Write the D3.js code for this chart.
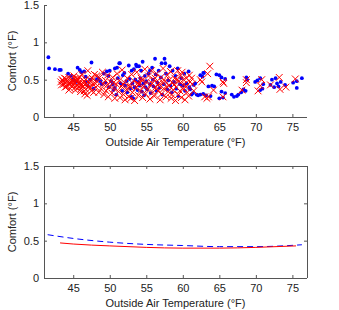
<!DOCTYPE html>
<html>
<head>
<meta charset="utf-8">
<script src="https://cdn.jsdelivr.net/npm/d3@7"></script>
<style>
  body { margin: 0; background: #fff; }
  svg { display: block; font-family: "Liberation Sans", Arial, sans-serif; }
  .axis path, .axis line { stroke: #555; }
  .axis text { fill: #222; font-size: 11px; }
  .lbl { fill: #222; font-size: 11px; }
</style>
</head>
<body>
<div class="container"></div>
<script>
// measured points [temperature, comfort]
const bluePts = [
  [41.6,0.80],[41.7,0.65],[42.5,0.64],[43.1,0.63],[43.3,0.63],
  [44.3,0.58],[44.7,0.55],[45.0,0.50],[45.4,0.47],[45.6,0.66],[45.9,0.63],[46.1,0.60],[46.5,0.61],
  [46.7,0.54],[46.8,0.47],[47.0,0.42],[47.5,0.73],[47.3,0.50],[47.8,0.38],
  [48.2,0.50],[48.4,0.52],[48.7,0.48],[48.9,0.44],[49.2,0.58],[49.4,0.46],[49.6,0.61],[49.8,0.55],
  [49.9,0.40],[50.0,0.62],[50.2,0.48],[50.4,0.44],[50.5,0.36],[50.7,0.65],[50.7,0.39],[50.9,0.30],
  [51.0,0.66],[51.1,0.52],[51.3,0.72],[51.4,0.72],[51.5,0.45],[51.7,0.35],[51.8,0.56],[52.0,0.59],
  [52.1,0.42],[52.3,0.48],[52.4,0.33],[52.6,0.69],[52.7,0.51],[52.8,0.38],[53.0,0.62],[53.0,0.27],
  [53.1,0.45],[53.2,0.25],[53.3,0.64],[53.4,0.40],[53.5,0.50],[53.6,0.70],[53.7,0.68],[53.8,0.36],
  [53.9,0.47],[54.0,0.68],[54.1,0.42],[54.2,0.52],[54.3,0.62],[54.4,0.34],[54.5,0.74],[54.6,0.45],
  [54.7,0.29],[54.8,0.55],[54.9,0.40],[55.0,0.48],[55.1,0.37],[55.3,0.58],[55.5,0.62],[55.5,0.44],
  [55.6,0.32],[55.8,0.66],[55.9,0.50],[56.0,0.41],[56.2,0.78],[56.3,0.57],[56.4,0.35],[56.5,0.46],
  [56.7,0.62],[56.8,0.39],[57.0,0.53],[57.1,0.72],[57.2,0.30],[57.4,0.44],[57.5,0.78],[57.6,0.72],
  [57.7,0.58],[57.9,0.37],[58.0,0.49],[58.2,0.68],[58.3,0.42],[58.5,0.33],[58.6,0.62],[58.8,0.47],
  [59.0,0.55],[59.1,0.38],[59.3,0.65],[59.4,0.28],[59.6,0.44],[59.8,0.52],[60.0,0.42],[60.2,0.58],
  [60.3,0.35],[60.5,0.45],[60.8,0.61],[60.9,0.40],[61.0,0.37],[61.2,0.30],[61.4,0.32],[61.5,0.43],
  [61.7,0.45],[61.9,0.30],[62.1,0.29],[62.4,0.56],[62.4,0.30],[62.7,0.54],[62.8,0.59],[62.8,0.31],
  [62.9,0.59],[63.2,0.29],[63.5,0.41],[63.8,0.28],[64.0,0.42],[64.3,0.41],[64.6,0.57],[65.0,0.56],
  [65.0,0.25],[65.3,0.53],[65.3,0.34],[65.5,0.26],[65.8,0.51],[65.8,0.32],[66.7,0.30],[66.9,0.53],
  [67.0,0.27],[67.4,0.28],[67.6,0.30],[68.0,0.33],[68.3,0.37],[68.6,0.35],[68.7,0.53],[68.8,0.50],
  [69.9,0.47],[70.2,0.49],[70.6,0.52],[70.6,0.36],[70.9,0.38],[71.0,0.44],[72.0,0.43],[72.2,0.50],
  [72.5,0.40],[72.7,0.52],[72.9,0.45],[73.1,0.41],[73.4,0.47],[74.0,0.43],[75.1,0.46],[75.6,0.48],
  [75.6,0.39],[76.3,0.52]
];
const redPts = [
  [43.3,0.47],[43.5,0.50],[43.7,0.44],[43.8,0.52],[44.0,0.46],[44.1,0.41],[44.2,0.49],[44.4,0.53],
  [44.5,0.44],[44.6,0.38],[44.7,0.47],[44.9,0.50],[45.0,0.42],[45.1,0.55],[45.2,0.46],[45.3,0.36],
  [45.4,0.49],[45.5,0.43],[45.6,0.52],[45.7,0.39],[45.9,0.47],[46.0,0.34],[46.1,0.44],[46.2,0.57],
  [46.3,0.41],[46.5,0.48],[46.6,0.31],[46.7,0.37],[46.8,0.45],[46.9,0.29],[47.0,0.62],[47.1,0.40],
  [47.3,0.50],[47.5,0.35],[47.7,0.44],[47.9,0.57],[48.1,0.40],[48.3,0.47],[48.5,0.33],[48.6,0.53],
  [48.8,0.38],[49.0,0.60],[49.1,0.44],[49.2,0.30],[49.4,0.49],[49.5,0.35],[49.7,0.56],[49.8,0.27],
  [50.0,0.41],[50.1,0.47],[50.3,0.32],[50.4,0.53],[50.6,0.38],[50.7,0.25],[50.9,0.44],[51.0,0.58],
  [51.2,0.34],[51.3,0.49],[51.4,0.26],[51.6,0.41],[51.7,0.63],[51.9,0.30],[52.0,0.46],[52.1,0.23],
  [52.3,0.37],[52.4,0.52],[52.6,0.27],[52.7,0.43],[52.9,0.25],[53.0,0.57],[53.1,0.33],[53.3,0.48],
  [53.4,0.22],[53.6,0.39],[53.7,0.60],[53.9,0.29],[54.0,0.44],[54.2,0.35],[54.3,0.52],[54.5,0.26],
  [54.6,0.41],[54.8,0.64],[54.9,0.31],[55.0,0.47],[55.2,0.37],[55.3,0.55],[55.5,0.24],[55.6,0.43],
  [55.7,0.62],[55.9,0.33],[56.0,0.50],[56.1,0.28],[56.3,0.40],[56.4,0.58],[56.6,0.35],[56.7,0.45],
  [56.9,0.23],[57.0,0.53],[57.1,0.31],[57.3,0.65],[57.4,0.38],[57.6,0.48],[57.7,0.27],[57.9,0.56],
  [58.0,0.34],[58.1,0.42],[58.3,0.61],[58.4,0.25],[58.6,0.46],[58.7,0.36],[58.9,0.52],[59.0,0.22],
  [59.1,0.40],[59.3,0.62],[59.4,0.30],[59.5,0.48],[59.7,0.56],[59.8,0.26],[59.9,0.60],[60.0,0.38],
  [60.2,0.44],[60.3,0.23],[60.5,0.52],[60.6,0.33],[60.8,0.28],[61.0,0.47],[61.2,0.52],[61.5,0.35],
  [62.4,0.50],[62.6,0.47],[63.0,0.27],[63.3,0.25],[63.4,0.58],[63.5,0.27],[63.7,0.68],[64.2,0.36],
  [65.5,0.47],[65.6,0.45],[65.5,0.27],[68.1,0.36],[68.7,0.50],[68.7,0.46],[70.3,0.35],[70.6,0.42],
  [70.8,0.50],[72.0,0.43],[73.2,0.53],[73.3,0.37],[74.1,0.40],[75.4,0.51],
  [43.4,0.43],[43.6,0.48],[43.9,0.40],[44.0,0.51],[44.3,0.45],[44.4,0.36],[44.8,0.42],[45.0,0.47],
  [45.2,0.51],[45.3,0.40],[45.5,0.48],[45.8,0.44],[45.9,0.53],[46.1,0.38],[46.4,0.45],[46.5,0.35],
  [46.7,0.50],[46.9,0.42],[47.2,0.46],[47.4,0.39],[47.6,0.52],[47.8,0.33],[48.0,0.45],[48.2,0.55],
  [49.6,0.42],[50.5,0.46],[51.8,0.44],[52.8,0.40],[53.8,0.45],[54.4,0.49],[55.8,0.45],[56.2,0.52],
  [56.8,0.41],[57.2,0.47],[57.8,0.40],[58.2,0.50],[58.5,0.30],[58.8,0.43],[59.2,0.49],[59.6,0.35],
  [60.1,0.50],[60.4,0.40],[60.9,0.56],[61.3,0.44]
];

// fitted curves (bottom panel)
const blueFitT = [41.5, 45, 50, 55, 60, 65, 70, 76.3];
const blueFitV = [0.58, 0.53, 0.48, 0.45, 0.435, 0.42, 0.42, 0.445];
const redFitT = [43.2, 45, 50, 55, 60, 65, 70, 75.5];
const redFitV = [0.47, 0.455, 0.43, 0.41, 0.40, 0.40, 0.41, 0.43];

const xTicks = [45, 50, 55, 60, 65, 70, 75];
const yTicks = [0, 0.5, 1, 1.5];

const WIDTH = 339;
const HEIGHT = 310;
const LEFT = 44, RIGHT = 307;

const svg = d3.select('.container').append('svg')
    .attr('width', WIDTH)
    .attr('height', HEIGHT);

const x = d3.scaleLinear().domain([41, 77]).range([LEFT, RIGHT]);

const drawPanel = function (top, bottom, boxed) {
    let y = d3.scaleLinear().domain([0, 1.5]).range([bottom, top]);
    let g = svg.append('g');

    let xAxis = d3.axisBottom(x).tickValues(xTicks).tickSize(-3).tickPadding(6)
        .tickFormat(d3.format('d'));
    let yAxis = d3.axisLeft(y).tickValues(yTicks).tickSize(-3).tickPadding(5)
        .tickFormat(d => d);

    g.append('g').attr('class', 'axis')
        .attr('transform', `translate(0, ${bottom})`)
        .call(xAxis)
        .call(a => a.select('.domain').attr('d', `M${LEFT},0.5H${RIGHT}`));
    g.append('g').attr('class', 'axis')
        .attr('transform', `translate(${LEFT}, 0)`)
        .call(yAxis)
        .call(a => a.select('.domain').attr('d', `M0.5,${bottom}V${top}`));

    if (boxed) {
        g.append('g').attr('class', 'axis')
            .attr('transform', `translate(0, ${top})`)
            .call(d3.axisTop(x).tickValues(xTicks).tickSize(-3).tickFormat(''))
            .call(a => a.select('.domain').attr('d', `M${LEFT},0.5H${RIGHT}`));
        g.append('g').attr('class', 'axis')
            .attr('transform', `translate(${RIGHT}, 0)`)
            .call(d3.axisRight(y).tickValues(yTicks).tickSize(-3).tickFormat(''))
            .call(a => a.select('.domain').attr('d', `M0.5,${bottom}V${top}`));
    }

    svg.append('text').attr('class', 'lbl')
        .attr('text-anchor', 'middle')
        .attr('x', (LEFT + RIGHT) / 2)
        .attr('y', bottom + 29)
        .text('Outside Air Temperature (°F)');

    svg.append('text').attr('class', 'lbl')
        .attr('text-anchor', 'middle')
        .attr('transform', `translate(16, ${(top + bottom) / 2})rotate(-90)`)
        .text('Comfort (°F)');

    return y;
};

//--top panel: scatter--
const y1 = drawPanel(5, 117, false);
const scat = svg.append('g');

scat.selectAll('circle').data(bluePts)
    .enter().append('circle')
    .attr('cx', d => x(d[0]))
    .attr('cy', d => y1(d[1]))
    .attr('r', 1.9)
    .attr('fill', '#0000ff');

const s = 3.4;
scat.selectAll('path.cross').data(redPts)
    .enter().append('path')
    .attr('class', 'cross')
    .attr('d', d => {
        let cx = x(d[0]), cy = y1(d[1]);
        return `M${cx - s},${cy - s}L${cx + s},${cy + s}M${cx - s},${cy + s}L${cx + s},${cy - s}`;
    })
    .attr('stroke', '#ff0000')
    .attr('stroke-width', 1)
    .attr('fill', 'none');

//--bottom panel: fitted lines--
const y2 = drawPanel(166, 278, true);

const line = d3.line()
    .x(d => x(d[0]))
    .y(d => y2(d[1]))
    .curve(d3.curveMonotoneX);

svg.append('path')
    .attr('d', line(d3.zip(blueFitT, blueFitV)))
    .attr('fill', 'none')
    .attr('stroke', '#0000ff')
    .attr('stroke-width', 1)
    .attr('stroke-dasharray', '6,4');

svg.append('path')
    .attr('d', line(d3.zip(redFitT, redFitV)))
    .attr('fill', 'none')
    .attr('stroke', '#ff0000')
    .attr('stroke-width', 1);
</script>
</body>
</html>
